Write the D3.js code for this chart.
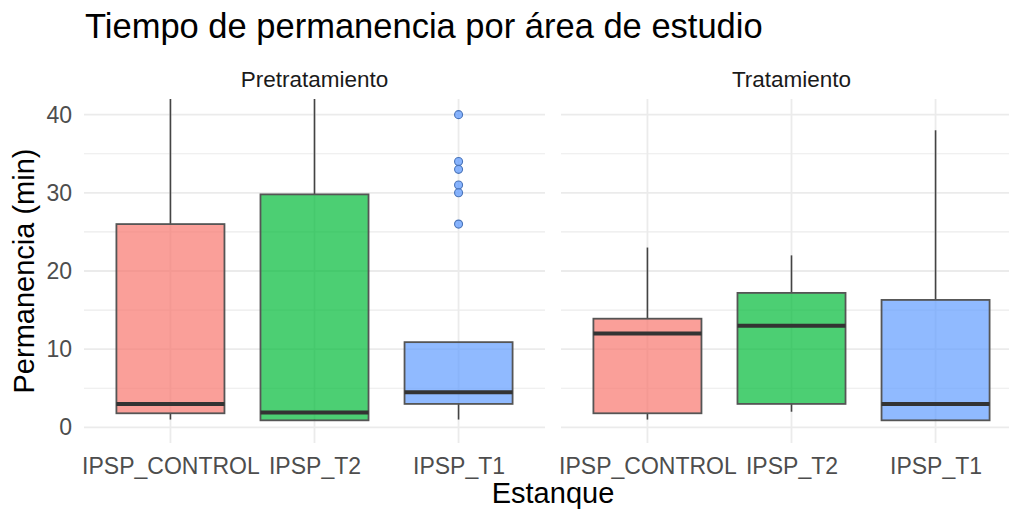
<!DOCTYPE html>
<html>
<head>
<meta charset="utf-8">
<script src="https://cdn.jsdelivr.net/npm/d3@7"></script>
<style>
  body { margin: 0; background: #fff; }
  text { font-family: "Liberation Sans", Arial, sans-serif; }
</style>
</head>
<body>
<script>
const width = 1009;
const height = 510;

// data (boxplot summaries, minutes)
const facets = ["Pretratamiento", "Tratamiento"];
const categories = ["IPSP_CONTROL", "IPSP_T2", "IPSP_T1"];
const colors = ["#F8766D", "#00BA38", "#619CFF"];

const lowWhisker  = [[1, 1, 1],     [1, 2, 1]];
const q1          = [[1.8, 0.9, 3], [1.8, 3, 0.9]];
const medians     = [[3, 1.9, 4.5], [12, 13, 3]];
const q3          = [[26, 29.8, 10.9], [13.9, 17.2, 16.3]];
const highWhisker = [[45, 45, 10.9], [23, 22, 38]];
const outliers    = [[[], [], [40, 34, 33, 31, 30, 26]], [[], [], []]];

const yTicks = [0, 10, 20, 30, 40];
const yMinor = [5, 15, 25, 35];

const panelTop = 99, panelBottom = 443;
const panelLefts = [84, 561];
const panelWidth = 461;

const svg = d3.select("body").append("svg")
    .attr("width", width)
    .attr("height", height);

const y = d3.scaleLinear().domain([-2, 42]).range([panelBottom, panelTop]);

svg.append("text")
    .attr("x", 85).attr("y", 38)
    .attr("font-size", 34.5)
    .attr("fill", "#000")
    .text("Tiempo de permanencia por área de estudio");

facets.forEach(function (facet, f) {
    const x0 = panelLefts[f];
    const x = d3.scalePoint()
	  .domain(categories)
	  .range([x0, x0 + panelWidth])
	  .padding(0.6);
    const boxW = x.step() * 0.75;

    svg.append("clipPath").attr("id", "clip" + f)
	.append("rect")
	.attr("x", x0).attr("y", panelTop)
	.attr("width", panelWidth).attr("height", panelBottom - panelTop);

    const g = svg.append("g");

    // grid
    g.selectAll(".minor").data(yMinor).enter().append("line")
	.attr("x1", x0).attr("x2", x0 + panelWidth)
	.attr("y1", d => y(d)).attr("y2", d => y(d))
	.attr("stroke", "#EBEBEB").attr("stroke-width", 1.1);
    g.selectAll(".major").data(yTicks).enter().append("line")
	.attr("x1", x0).attr("x2", x0 + panelWidth)
	.attr("y1", d => y(d)).attr("y2", d => y(d))
	.attr("stroke", "#EBEBEB").attr("stroke-width", 1.8);
    g.selectAll(".vgrid").data(categories).enter().append("line")
	.attr("x1", d => x(d)).attr("x2", d => x(d))
	.attr("y1", panelTop).attr("y2", panelBottom)
	.attr("stroke", "#EBEBEB").attr("stroke-width", 1.8);

    // strip label
    svg.append("text")
	.attr("x", x0 + panelWidth / 2).attr("y", 87)
	.attr("text-anchor", "middle")
	.attr("font-size", 22.5)
	.attr("fill", "#1A1A1A")
	.text(facet);

    // boxes
    const boxes = g.append("g").attr("clip-path", "url(#clip" + f + ")")
	  .selectAll("g")
	  .data(categories.map((c, i) => ({
	      cat: c, color: colors[i],
	      lw: lowWhisker[f][i], q1: q1[f][i], med: medians[f][i],
	      q3: q3[f][i], hw: highWhisker[f][i], out: outliers[f][i]
	  })))
	  .enter().append("g");

    boxes.append("line")
	.attr("x1", d => x(d.cat)).attr("x2", d => x(d.cat))
	.attr("y1", d => y(d.q3)).attr("y2", d => y(d.hw))
	.attr("stroke", "#444").attr("stroke-width", 1.6);
    boxes.append("line")
	.attr("x1", d => x(d.cat)).attr("x2", d => x(d.cat))
	.attr("y1", d => y(d.q1)).attr("y2", d => y(d.lw))
	.attr("stroke", "#444").attr("stroke-width", 1.6);

    boxes.append("rect")
	.attr("x", d => x(d.cat) - boxW / 2)
	.attr("width", boxW)
	.attr("y", d => y(d.q3))
	.attr("height", d => y(d.q1) - y(d.q3))
	.attr("fill", d => d.color).attr("fill-opacity", 0.7)
	.attr("stroke", "#555").attr("stroke-width", 1.8);

    boxes.append("line")
	.attr("x1", d => x(d.cat) - boxW / 2).attr("x2", d => x(d.cat) + boxW / 2)
	.attr("y1", d => y(d.med)).attr("y2", d => y(d.med))
	.attr("stroke", "#333").attr("stroke-width", 4);

    boxes.selectAll("circle")
	.data(d => d.out.map(v => ({v: v, cat: d.cat, color: d.color})))
	.enter().append("circle")
	.attr("cx", d => x(d.cat)).attr("cy", d => y(d.v))
	.attr("r", 4)
	.attr("fill", d => d.color).attr("fill-opacity", 0.75)
	.attr("stroke", "#4A74B8").attr("stroke-width", 1.1);

    // x axis
    const xAxis = svg.append("g")
	  .attr("transform", "translate(0," + panelBottom + ")")
	  .call(d3.axisBottom(x).tickSize(0).tickPadding(15));
    xAxis.select(".domain").remove();
    xAxis.selectAll("text")
	.attr("font-family", "Liberation Sans, Arial, sans-serif")
	.attr("font-size", 23)
	.attr("fill", "#4D4D4D");
});

// y axis
const yAxis = svg.append("g")
      .attr("transform", "translate(" + panelLefts[0] + ",0)")
      .call(d3.axisLeft(y).tickValues(yTicks).tickSize(0).tickPadding(12));
yAxis.select(".domain").remove();
yAxis.selectAll("text")
    .attr("font-family", "Liberation Sans, Arial, sans-serif")
    .attr("font-size", 23)
    .attr("fill", "#4D4D4D");

// axis titles
svg.append("text")
    .attr("x", (panelLefts[0] + panelLefts[1] + panelWidth) / 2)
    .attr("y", 503)
    .attr("text-anchor", "middle")
    .attr("font-size", 29)
    .attr("fill", "#000")
    .text("Estanque");

svg.append("text")
    .attr("transform", "translate(34," + (panelTop + panelBottom) / 2 + ") rotate(-90)")
    .attr("text-anchor", "middle")
    .attr("font-size", 29)
    .attr("fill", "#000")
    .text("Permanencia (min)");
</script>
</body>
</html>
